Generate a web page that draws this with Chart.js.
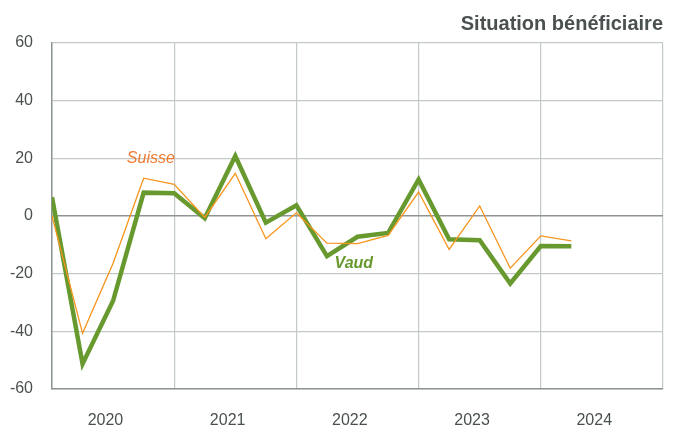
<!DOCTYPE html>
<html>
<head>
<meta charset="utf-8">
<script src="https://cdn.jsdelivr.net/npm/chart.js@4"></script>
<style>
  html, body { margin: 0; padding: 0; background: #fff; overflow: hidden; }
  canvas { display: block; }
</style>
</head>
<body>
<canvas id="chart" width="676" height="431"></canvas>
<script>
// trimestres 2020 T1 .. 2024 T2
const quarters = ['2020T1','2020T2','2020T3','2020T4','2021T1','2021T2','2021T3','2021T4',
                  '2022T1','2022T2','2022T3','2022T4','2023T1','2023T2','2023T3','2023T4',
                  '2024T1','2024T2'];
const vaud   = [6.5, -51.3, -29.4, 8.1, 7.9, -0.8, 20.8, -2.3, 3.7, -13.9, -7.2, -5.9, 12.7, -8.1, -8.4, -23.4, -10.4, -10.5];
const suisse = [0, -40.7, -16.4, 13.1, 11, -0.5, 14.8, -7.9, 1.1, -9.4, -9.6, -6.7, 8.3, -11.6, 3.5, -18.1, -6.9, -8.6];
const years = [2020, 2021, 2022, 2023, 2024];
const yTicks = [-60, -40, -20, 0, 20, 40, 60];

const GREEN = '#67992f';
const ORANGE = '#f7941d';
const TEXT = '#4a5050';

const toPoints = arr => arr.map((v, i) => ({ x: i, y: v }));

// ticks de l'axe x : lignes de séparation des années + libellés
const xTickValues = [];
years.forEach((y, i) => { xTickValues.push(i * 4); xTickValues.push(i * 4 + 1.75); });
xTickValues.push(years.length * 4);

const extras = {
  id: 'extras',
  afterDraw(chart) {
    const ctx = chart.ctx;
    const xs = chart.scales.x, ys = chart.scales.y;
    ctx.save();
    ctx.textBaseline = 'alphabetic';
    ctx.textAlign = 'right';
    ctx.fillStyle = TEXT;
    ctx.font = 'bold 20px "Liberation Sans", Arial, sans-serif';
    ctx.fillText('Situation bénéficiaire', 663, 30);

    ctx.textAlign = 'left';
    ctx.textBaseline = 'middle';
    ctx.fillStyle = '#f07b30';
    ctx.font = 'italic 16px "Liberation Sans", Arial, sans-serif';
    ctx.fillText('Suisse', xs.getPixelForValue(2.45), ys.getPixelForValue(20));
    ctx.fillStyle = GREEN;
    ctx.font = 'italic bold 16px "Liberation Sans", Arial, sans-serif';
    ctx.fillText('Vaud', xs.getPixelForValue(9.25), ys.getPixelForValue(-16.5));
    ctx.restore();
  }
};

new Chart(document.getElementById('chart'), {
  type: 'line',
  data: {
    datasets: [
      {
        label: 'Suisse',
        data: toPoints(suisse),
        borderColor: ORANGE,
        borderWidth: 1.3,
        pointRadius: 0,
        tension: 0
      },
      {
        label: 'Vaud',
        data: toPoints(vaud),
        borderColor: GREEN,
        borderWidth: 4.5,
        pointRadius: 0,
        tension: 0,
        borderJoinStyle: 'miter'
      }
    ]
  },
  options: {
    responsive: false,
    animation: false,
    layout: { padding: { top: 43, right: 13, left: 0, bottom: 0 } },
    plugins: { legend: { display: false }, tooltip: { enabled: false } },
    scales: {
      x: {
        type: 'linear',
        min: 0,
        max: years.length * 4,
        afterBuildTicks: axis => { axis.ticks = xTickValues.map(v => ({ value: v })); },
        afterFit: axis => { axis.height = 431 - 389; axis.paddingRight = 0; axis.paddingLeft = 0; },
        grid: {
          drawTicks: false,
          color: c => (c.tick && c.tick.value % 4 === 0) ? '#c3c8c8' : 'rgba(0,0,0,0)',
          lineWidth: 1.2
        },
        border: { color: '#8e9494', width: 1.5 },
        ticks: {
          autoSkip: false,
          maxRotation: 0,
          padding: 22,
          color: TEXT,
          font: { size: 16, family: '"Liberation Sans", Arial, sans-serif' },
          callback: v => (v % 4 === 0) ? '' : String(years[Math.floor(v / 4)])
        }
      },
      y: {
        min: -60,
        max: 60,
        afterBuildTicks: axis => { axis.ticks = yTicks.map(v => ({ value: v })); },
        afterFit: axis => { axis.width = 52; },
        grid: {
          drawTicks: false,
          color: c => (c.tick && c.tick.value === 0) ? '#8e9494' : '#c3c8c8',
          lineWidth: c => (c.tick && c.tick.value === 0) ? 1.5 : 1.2
        },
        border: { color: '#8e9494', width: 1.5 },
        ticks: {
          padding: 19,
          color: TEXT,
          font: { size: 16, family: '"Liberation Sans", Arial, sans-serif' }
        }
      }
    }
  },
  plugins: [extras]
});
</script>
</body>
</html>
